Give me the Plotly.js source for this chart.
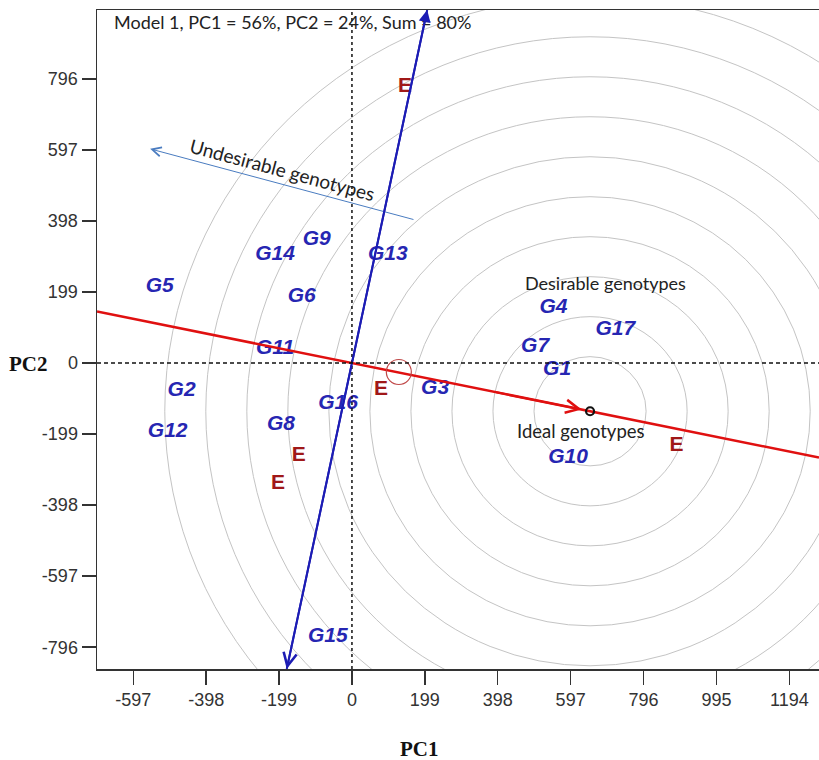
<!DOCTYPE html>
<html>
<head>
<meta charset="utf-8">
<script src="https://cdn.plot.ly/plotly-3.0.1.min.js"></script>
<style>html,body{margin:0;padding:0;background:#fff;}#chart{width:819px;height:760px;}</style>
</head>
<body>
<div id="chart"></div>
<script>
// ---- data ----
const genotypes = ['G1','G2','G3','G4','G5','G6','G7','G8','G9','G10','G11','G12','G13','G14','G15','G16','G17'];
const genoPC1   = [560, -465, 227, 550, -525, -137, 500, -194, -96, 590, -210, -503, 98, -210, -66, -38, 719];
const genoPC2   = [-20, -78, -72, 154, 213, 185, 45, -174, 345, -266, 39, -191, 303, 303, -768, -115, 92];

const envLabels = ['E','E','E','E','E'];
const envPC1    = [145, 79, -145, -202, 886];
const envPC2    = [774, -75, -261, -339, -233];

const idealPC1 = [650];
const idealPC2 = [-135];
const avgEnvPC1 = [128];
const avgEnvPC2 = [-25];
const ringRadii = [153, 265, 377, 489, 601, 713, 825, 937, 1049, 1161];

const xTicks = [-597, -398, -199, 0, 199, 398, 597, 796, 995, 1194];
const yTicks = [-796, -597, -398, -199, 0, 199, 398, 597, 796];

const undesirableFrom = [172, 401];
const undesirableTo   = [-551, 600];

// ---- layout helpers ----
const xRange = [-696, 1275];
const yRange = [-857, 989];
const cx = idealPC1[0], cy = idealPC2[0];
const slope = cy / cx;               // average-environment axis
const perp = -1 / slope;             // ordinate (perpendicular) axis

const traces = [];
traces.push({
  x: genoPC1, y: genoPC2, text: genotypes, mode: 'text', type: 'scatter',
  textfont: {family: 'Liberation Sans, Arial, sans-serif', size: 21, color: '#2626b2', weight: 'bold', style: 'italic'},
  hoverinfo: 'text', showlegend: false
});
traces.push({
  x: envPC1, y: envPC2, text: envLabels, mode: 'text', type: 'scatter',
  textfont: {family: 'Liberation Sans, Arial, sans-serif', size: 21, color: '#a01818', weight: 'bold'},
  showlegend: false
});
// AEA red line across the full plot width
traces.push({
  x: [xRange[0], xRange[1]], y: [slope * xRange[0], slope * xRange[1]],
  mode: 'lines', type: 'scatter', line: {color: '#e01010', width: 2.5},
  hoverinfo: 'skip', showlegend: false
});
// Blue ordinate line
const yTop = yRange[1], yBot = yRange[0];
traces.push({
  x: [yBot / perp, yTop / perp], y: [yBot, yTop],
  mode: 'lines', type: 'scatter', line: {color: '#1c1cb4', width: 2},
  hoverinfo: 'skip', showlegend: false
});
// average environment small circle
traces.push({
  x: avgEnvPC1, y: avgEnvPC2, mode: 'markers', type: 'scatter',
  marker: {symbol: 'circle-open', size: 25, color: '#c04848', line: {width: 1.2, color: '#c04848'}},
  showlegend: false
});
// ideal genotype point
traces.push({
  x: idealPC1, y: idealPC2, mode: 'markers', type: 'scatter',
  marker: {symbol: 'circle-open', size: 8, color: '#111', line: {width: 2.2, color: '#111'}},
  showlegend: false
});

const shapes = ringRadii.map(r => ({
  type: 'circle', xref: 'x', yref: 'y', layer: 'below',
  x0: cx - r, x1: cx + r, y0: cy - r, y1: cy + r,
  line: {color: '#c4c4c4', width: 1}
}));
shapes.push({type: 'line', xref: 'x', yref: 'paper', x0: 0, x1: 0, y0: 0, y1: 1,
  line: {color: '#111', width: 1.5, dash: '3px,3px'}});
shapes.push({type: 'line', xref: 'paper', yref: 'y', x0: 0, x1: 1, y0: 0, y1: 0,
  line: {color: '#111', width: 1.5, dash: '4px,3px'}});

const calibri = 'Lato, Open Sans, sans-serif';
const annotations = [
  {xref: 'paper', yref: 'paper', x: (112 - 97) / 722, y: 0.982, xanchor: 'left', yanchor: 'middle',
   text: 'Model 1, PC1 = 56%, PC2 = 24%, Sum = 80%', showarrow: false,
   font: {family: calibri, size: 18, color: '#222'}},
  {xref: 'paper', yref: 'paper', x: -0.0942, y: 0.463, xanchor: 'center', yanchor: 'middle',
   text: 'PC2', showarrow: false,
   font: {family: 'Liberation Serif, Times New Roman, serif', size: 21, color: '#111', weight: 'bold'}},
  {xref: 'paper', yref: 'paper', x: 0.446, y: -0.1214, xanchor: 'center', yanchor: 'middle',
   text: 'PC1', showarrow: false,
   font: {family: 'Liberation Serif, Times New Roman, serif', size: 21, color: '#111', weight: 'bold'}},
  {x: -191, y: 541, text: 'Undesirable genotypes', textangle: 15, showarrow: false,
   font: {family: calibri, size: 19, color: '#222'}},
  {x: 692, y: 224, text: 'Desirable genotypes', showarrow: false,
   font: {family: calibri, size: 18, color: '#222'}},
  {x: 626, y: -191, text: 'Ideal genotypes', showarrow: false,
   font: {family: calibri, size: 18.5, color: '#222'}},
  // arrows
  {x: undesirableTo[0], y: undesirableTo[1], ax: undesirableFrom[0], ay: undesirableFrom[1],
   axref: 'x', ayref: 'y', xref: 'x', yref: 'y', showarrow: true, arrowhead: 5, arrowsize: 1.8,
   arrowwidth: 1, arrowcolor: '#4a7cc0', text: ''},
  {x: cx * 0.965, y: cy * 0.965, ax: cx * 0.6, ay: cy * 0.6, axref: 'x', ayref: 'y', xref: 'x', yref: 'y',
   showarrow: true, arrowhead: 5, arrowsize: 1.3, arrowwidth: 2, arrowcolor: '#e01010', text: ''},
  {x: yTop / perp, y: yTop, ax: 0, ay: 0, axref: 'x', ayref: 'y', xref: 'x', yref: 'y',
   showarrow: true, arrowhead: 2, arrowsize: 1.2, arrowwidth: 2, arrowcolor: '#1c1cb4', text: ''},
  {x: yBot / perp, y: yBot, ax: 0, ay: 0, axref: 'x', ayref: 'y', xref: 'x', yref: 'y',
   showarrow: true, arrowhead: 5, arrowsize: 1.3, arrowwidth: 2, arrowcolor: '#1c1cb4', text: ''}
];

const tickFont = {family: 'Liberation Sans, Arial, sans-serif', size: 18, color: '#333'};
const layout = {
  width: 819, height: 760,
  margin: {l: 97, r: 0, t: 10, b: 91, pad: 0},
  paper_bgcolor: '#fff', plot_bgcolor: '#fff',
  showlegend: false,
  xaxis: {
    range: xRange, tickmode: 'array', tickvals: xTicks, ticktext: xTicks.map(String),
    showgrid: false, zeroline: false, showline: true, linecolor: '#333', linewidth: 1.5, mirror: true,
    ticks: 'outside', ticklen: 14, tickwidth: 1.5, tickcolor: '#333', tickfont: tickFont
  },
  yaxis: {
    range: yRange, tickmode: 'array', tickvals: yTicks, ticktext: yTicks.map(String),
    showgrid: false, zeroline: false, showline: true, linecolor: '#333', linewidth: 1.5,
    ticks: 'outside', ticklen: 14, tickwidth: 1.5, tickcolor: '#333', tickfont: tickFont
  },
  shapes: shapes,
  annotations: annotations
};

Plotly.newPlot('chart', traces, layout, {displayModeBar: false, staticPlot: true});
</script>
</body>
</html>
